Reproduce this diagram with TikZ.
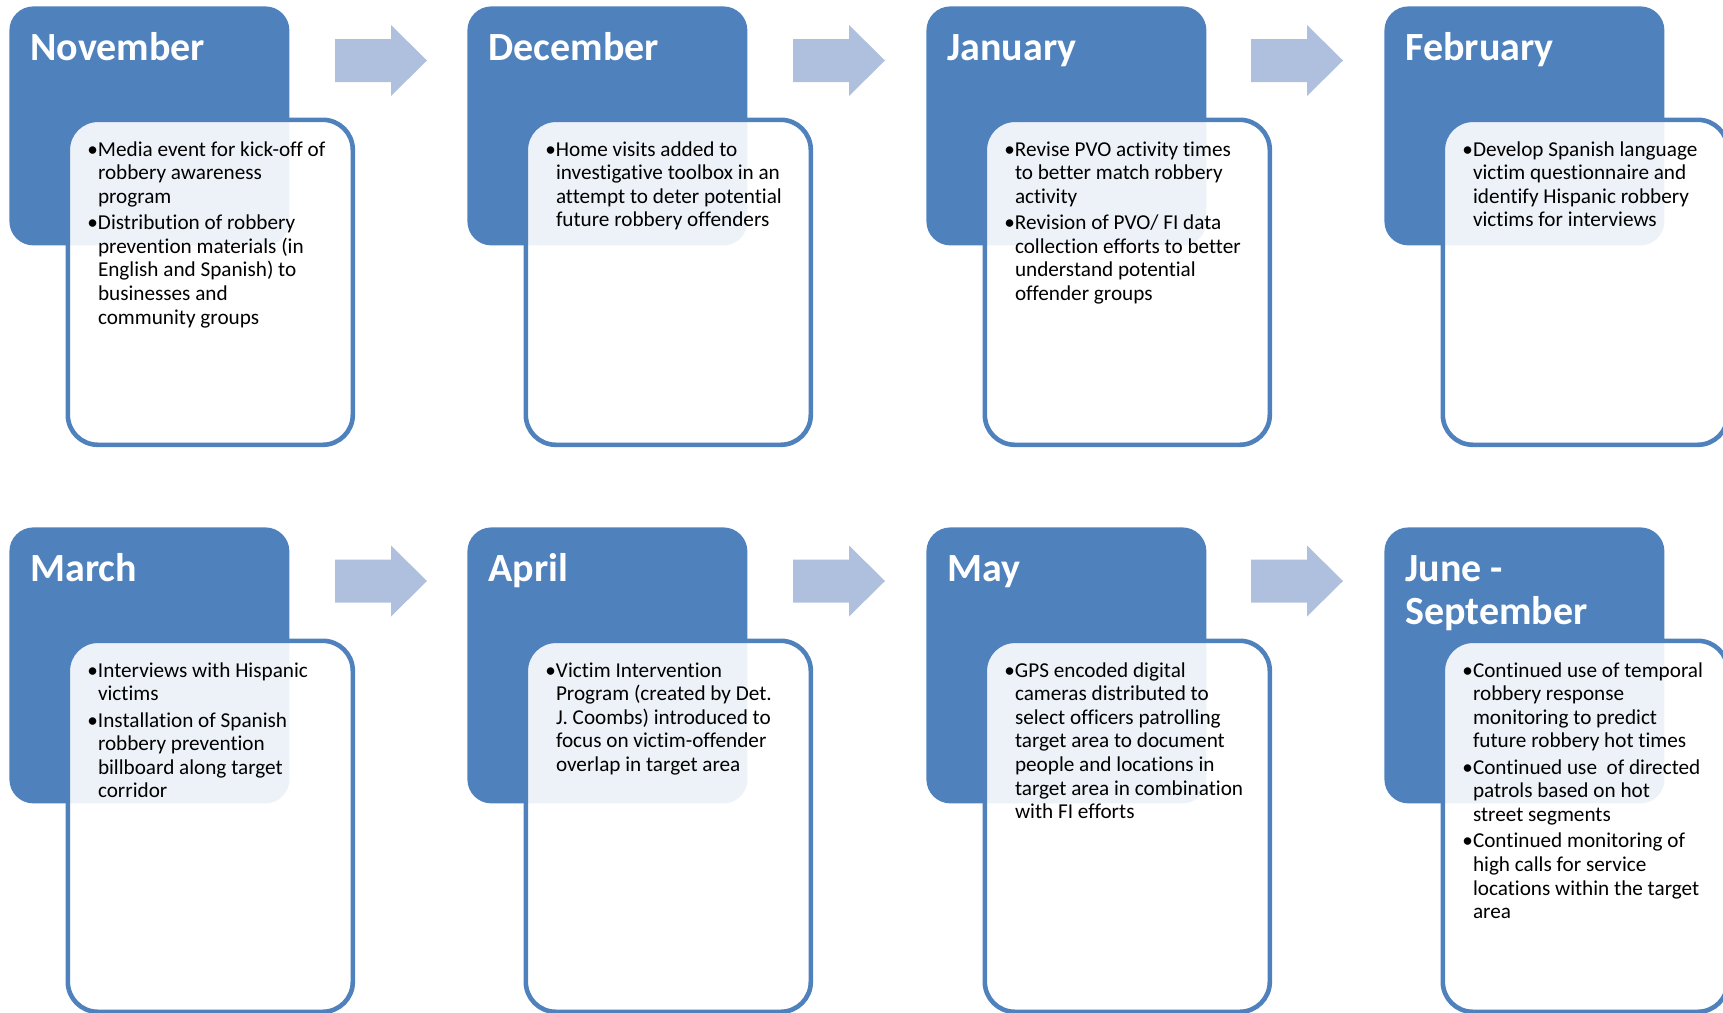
\documentclass[tikz,border=0pt]{standalone}
\usepackage{fontspec}
\setmainfont{Carlito}[Ligatures=NoCommon]
\usetikzlibrary{calc,positioning}
\definecolor{cardblue}{RGB}{79,129,189}
\definecolor{arrowblue}{RGB}{175,192,222}
\newcommand{\bl}{\makebox[5.3pt][l]{\textbullet}}

\begin{document}
\begin{tikzpicture}[line cap=round,line join=round,x=0.5pt,y=-0.5pt,
  monthbox/.style={fill=cardblue,rounded corners=12pt,minimum width=140pt,anchor=north west,inner sep=0pt},
  notebox/.style={draw=cardblue,line width=2.3pt,fill=white,fill opacity=0.9,rounded corners=15pt,minimum width=142.5pt,anchor=north west,inner sep=0pt},
  monthtitle/.style={anchor=base west,inner sep=0pt,text=white,font=\fontsize{20}{21.5}\selectfont\bfseries},
  notetext/.style={anchor=base west,inner sep=0pt,font=\fontsize{10.6}{11.8}\selectfont}]
\useasboundingbox (0,0) rectangle (1723,1012);

%arrows
\foreach \x/\y in {335/60.5,793/60.5,1251/60.5,335/581,793/581,1251/581}
\fill[arrowblue] (\x,\y-21.5) -- ++(56,0) -- ++(0,-14) -- (\x+92,\y) -- (\x+56,\y+35.5) -- ++(0,-14) -- (\x,\y+21.5) -- cycle;

%cards
\foreach \n/\x/\y/\hb/\hw in
{   nov/9/6/119.5/162.5, dec/467/6/119.5/162.5, jan/926/6/119.5/162.5, feb/1384/6/119.5/162.5,
    mar/9/527/138/185.5, apr/467/527/138/185.5, may/926/527/138/185.5, jun/1384/527/138/185.5
}
{
    \node[monthbox,minimum height=\hb pt] (\n) at (\x,\y) {};
    \node[notebox,minimum height=\hw pt] (\n note) at (\x+56.5,\y+111.5) {};
};

\node[monthtitle] (novtitle) at (30,60) {November};
\node[monthtitle] (dectitle) at (488,60) {December};
\node[monthtitle] (jantitle) at (947,60) {January};
\node[monthtitle] (febtitle) at (1405,60) {February};
\node[monthtitle] (martitle) at (30,581) {March};
\node[monthtitle] (aprtitle) at (488,581) {April};
\node[monthtitle] (maytitle) at (947,581) {May};
\node[monthtitle] (juntitle) at (1405,581) {\begin{tabular}[t]{@{}l@{}}June -\\September\end{tabular}};

\node[notetext] (novtext) at (87,156) {\begin{tabular}[t]{@{}l@{}l@{}}
\bl & Media event for kick-off of\\ & robbery awareness\\ & program\\[1.4pt]
\bl & Distribution of robbery\\ & prevention materials (in\\ & English and Spanish) to\\ & businesses and\\ & community groups
\end{tabular}};
\node[notetext] (dectext) at (545,156) {\begin{tabular}[t]{@{}l@{}l@{}}
\bl & Home visits added to\\ & investigative toolbox in an\\ & attempt to deter potential\\ & future robbery offenders
\end{tabular}};
\node[notetext] (jantext) at (1004,156) {\begin{tabular}[t]{@{}l@{}l@{}}
\bl & Revise PVO activity times\\ & to better match robbery\\ & activity\\[1.4pt]
\bl & Revision of PVO/ FI data\\ & collection efforts to better\\ & understand potential\\ & offender groups
\end{tabular}};
\node[notetext] (febtext) at (1462,156) {\begin{tabular}[t]{@{}l@{}l@{}}
\bl & Develop Spanish language\\ & victim questionnaire and\\ & identify Hispanic robbery\\ & victims for interviews
\end{tabular}};
\node[notetext] (martext) at (87,677) {\begin{tabular}[t]{@{}l@{}l@{}}
\bl & Interviews with Hispanic\\ & victims\\[1.4pt]
\bl & Installation of Spanish\\ & robbery prevention\\ & billboard along target\\ & corridor
\end{tabular}};
\node[notetext] (aprtext) at (545,677) {\begin{tabular}[t]{@{}l@{}l@{}}
\bl & Victim Intervention\\ & Program (created by Det.\\ & J. Coombs) introduced to\\ & focus on victim-offender\\ & overlap in target area
\end{tabular}};
\node[notetext] (maytext) at (1004,677) {\begin{tabular}[t]{@{}l@{}l@{}}
\bl & GPS encoded digital\\ & cameras distributed to\\ & select officers patrolling\\ & target area to document\\ & people and locations in\\ & target area in combination\\ & with FI efforts
\end{tabular}};
\node[notetext] (juntext) at (1462,677) {\begin{tabular}[t]{@{}l@{}l@{}}
\bl & Continued use of temporal\\ & robbery response\\ & monitoring to predict\\ & future robbery hot times\\[1.4pt]
\bl & Continued use\ \ of directed\\ & patrols based on hot\\ & street segments\\[1.4pt]
\bl & Continued monitoring of\\ & high calls for service\\ & locations within the target\\ & area
\end{tabular}};
\end{tikzpicture}
\end{document}
